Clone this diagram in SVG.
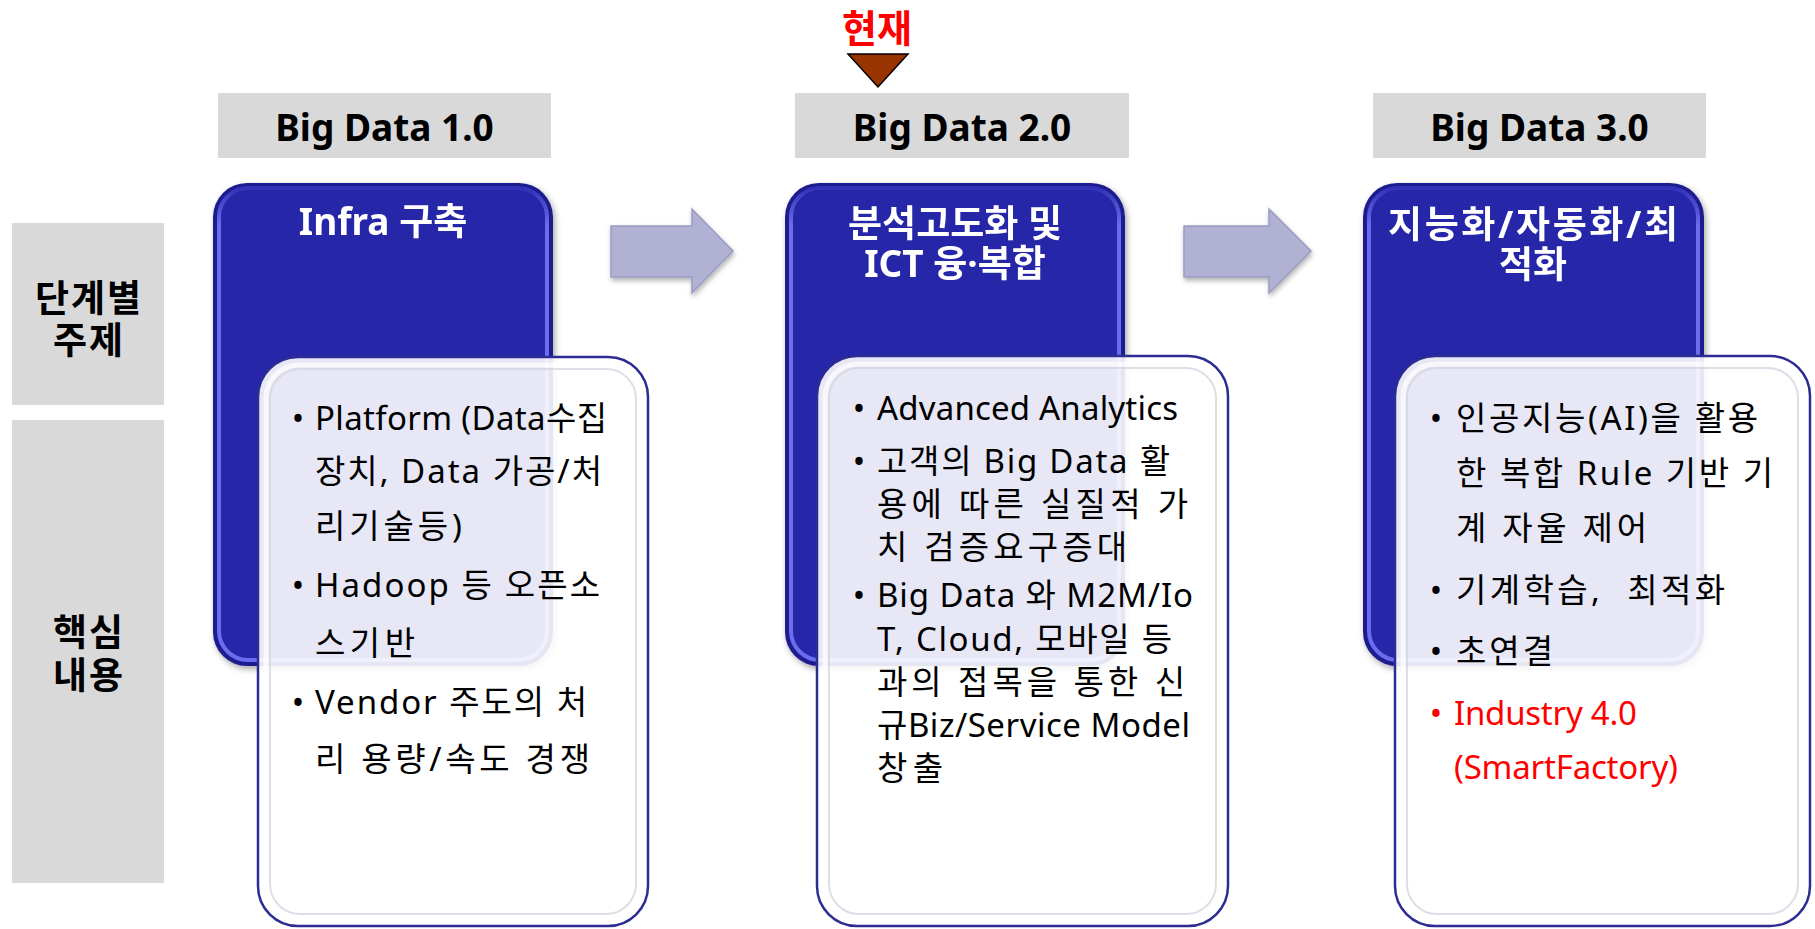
<svg xmlns="http://www.w3.org/2000/svg" width="1815" height="929" viewBox="0 0 1815 929">
  <defs>
    <style>
      .tag { fill: #d9d9d9; }
      .hdr { font-family: "Noto Sans", "Noto Sans CJK KR", sans-serif; font-weight: 700; font-size: 37px; fill: #000; text-anchor: middle; }
      .side { font-family: "Noto Sans CJK KR", "Noto Sans", sans-serif; font-weight: 700; font-size: 37px; fill: #000; text-anchor: middle; letter-spacing: 2px; }
      .title { font-family: "Noto Sans", "Noto Sans CJK KR", sans-serif; font-weight: 700; font-size: 37px; fill: #fff; text-anchor: middle; }
      .body { font-family: "Noto Sans", "Noto Sans CJK KR", sans-serif; font-size: 33px; fill: #000; white-space: pre; }
      .bul { font-family: "Noto Sans", "Noto Sans CJK KR", sans-serif; font-size: 33px; fill: #000; text-anchor: middle; }
      .red { fill: #ff0000; }
      .blue-rim { fill: #1d1d8e; }
      .blue-core { fill: #2525a9; stroke: url(#blueEdge); stroke-width: 4; }
      .card { fill: #ffffff; fill-opacity: 0.89; stroke: #2c2c93; stroke-width: 2.5; }
      .card-ring { fill: none; stroke: #d6d6e2; stroke-width: 2; stroke-opacity: 0.8; }
      .card-gloss { fill: none; stroke: #ffffff; stroke-width: 5; stroke-opacity: 0.7; }
      .flow { fill: #b1b1d3; stroke: #9a9ac4; stroke-width: 1.5; }
      .now { font-family: "Noto Sans", "Noto Sans CJK KR", sans-serif; font-weight: 700; font-size: 38px; fill: #ff0000; text-anchor: middle; }
    </style>
    <linearGradient id="blueEdge" x1="0" y1="0" x2="0" y2="1">
      <stop offset="0" stop-color="#3232b8"/>
      <stop offset="0.08" stop-color="#6c6cee"/>
      <stop offset="1" stop-color="#6c6cee"/>
    </linearGradient>
    <filter id="drop" x="-10%" y="-10%" width="125%" height="125%">
      <feDropShadow dx="2" dy="3" stdDeviation="3" flood-color="#000" flood-opacity="0.35"/>
    </filter>
    <filter id="dropSoft" x="-10%" y="-10%" width="125%" height="130%">
      <feDropShadow dx="1" dy="3" stdDeviation="2.5" flood-color="#000" flood-opacity="0.3"/>
    </filter>
  </defs>

  <rect width="1815" height="929" fill="#ffffff"/>

  <!-- row labels -->
  <g id="label-stage">
    <rect class="tag" x="12" y="223" width="152" height="182"/>
    <text class="side" x="89" y="312">단계별</text>
    <text class="side" x="89" y="354">주제</text>
  </g>
  <g id="label-content">
    <rect class="tag" x="12" y="420" width="152" height="463"/>
    <text class="side" x="89" y="646">핵심</text>
    <text class="side" x="89" y="689">내용</text>
  </g>

  <!-- version headers -->
  <g id="header-1">
    <rect class="tag" x="218" y="93" width="333" height="65"/>
    <text class="hdr" x="384.5" y="141">Big Data 1.0</text>
  </g>
  <g id="header-2">
    <rect class="tag" x="795" y="93" width="334" height="65"/>
    <text class="hdr" x="962" y="141">Big Data 2.0</text>
  </g>
  <g id="header-3">
    <rect class="tag" x="1373" y="93" width="333" height="65"/>
    <text class="hdr" x="1539.5" y="141">Big Data 3.0</text>
  </g>

  <!-- current position marker -->
  <g id="now-marker">
    <text class="now" x="877" y="42">현재</text>
    <polygon points="848,54 908,54 878,87" fill="#993300" stroke="#000000" stroke-width="1.5" stroke-linejoin="miter"/>
  </g>

  <!-- stage themes (blue panels) -->
  <g id="theme-1" filter="url(#drop)">
    <rect class="blue-rim" x="213" y="183" width="340" height="483" rx="34"/>
    <rect class="blue-core" x="219" y="188" width="328" height="472" rx="29"/>
    <text class="title" x="383" y="235">Infra 구축</text>
  </g>
  <g id="theme-2" filter="url(#drop)">
    <rect class="blue-rim" x="785" y="183" width="340" height="483" rx="34"/>
    <rect class="blue-core" x="791" y="188" width="328" height="472" rx="29"/>
    <text class="title" x="955" y="237">분석고도화 및</text>
    <text class="title" x="955" y="277">ICT 융·복합</text>
  </g>
  <g id="theme-3" filter="url(#drop)">
    <rect class="blue-rim" x="1363" y="183" width="341" height="483" rx="34"/>
    <rect class="blue-core" x="1369" y="188" width="329" height="472" rx="29"/>
    <text class="title" x="1533" y="238" textLength="290" lengthAdjust="spacing">지능화/자동화/최</text>
    <text class="title" x="1533" y="278">적화</text>
  </g>

  <!-- connectors between stages -->
  <g id="connectors" filter="url(#dropSoft)">
    <polygon class="flow" points="611,226 692,226 692,209 733,251 692,293 692,277 611,277"/>
    <polygon class="flow" points="1184,226 1269,226 1269,209 1311,251 1269,293 1269,277 1184,277"/>
  </g>

  <!-- detail cards -->
  <g id="detail-1">
    <rect class="card" x="258" y="357" width="390" height="569" rx="40"/>
    <rect class="card-gloss" x="266" y="365" width="374" height="553" rx="33"/>
    <rect class="card-ring" x="270" y="369" width="366" height="545" rx="30"/>
    <text class="bul" x="298" y="430">•</text>
    <text class="body" x="315" y="430" textLength="292" lengthAdjust="spacing">Platform (Data수집</text>
    <text class="body" x="315" y="483" textLength="287" lengthAdjust="spacing">장치, Data 가공/처</text>
    <text class="body" x="315" y="538" textLength="147" lengthAdjust="spacing">리기술등)</text>
    <text class="bul" x="298" y="597">•</text>
    <text class="body" x="315" y="597" textLength="285" lengthAdjust="spacing">Hadoop 등 오픈소</text>
    <text class="body" x="315" y="655" textLength="100" lengthAdjust="spacing">스기반</text>
    <text class="bul" x="298" y="714">•</text>
    <text class="body" x="315" y="714" textLength="272" lengthAdjust="spacing">Vendor 주도의 처</text>
    <text class="body" x="315" y="771" textLength="275" lengthAdjust="spacing">리 용량/속도 경쟁</text>
  </g>

  <g id="detail-2">
    <rect class="card" x="817" y="356" width="411" height="570" rx="40"/>
    <rect class="card-gloss" x="825" y="364" width="395" height="554" rx="33"/>
    <rect class="card-ring" x="829" y="368" width="387" height="546" rx="30"/>
    <text class="bul" x="859" y="420">•</text>
    <text class="body" x="877" y="420" textLength="301" lengthAdjust="spacing">Advanced Analytics</text>
    <text class="bul" x="859" y="473">•</text>
    <text class="body" x="877" y="473" textLength="293" lengthAdjust="spacing">고객의 Big Data 활</text>
    <text class="body" x="877" y="516" textLength="311" lengthAdjust="spacing">용에 따른 실질적 가</text>
    <text class="body" x="877" y="559" textLength="250" lengthAdjust="spacing">치 검증요구증대</text>
    <text class="bul" x="859" y="607">•</text>
    <text class="body" x="877" y="607" textLength="316" lengthAdjust="spacing">Big Data 와 M2M/Io</text>
    <text class="body" x="877" y="651" textLength="295" lengthAdjust="spacing">T, Cloud, 모바일 등</text>
    <text class="body" x="877" y="694" textLength="308" lengthAdjust="spacing">과의 접목을 통한 신</text>
    <text class="body" x="877" y="737" textLength="313" lengthAdjust="spacing">규Biz/Service Model</text>
    <text class="body" x="877" y="780" textLength="66" lengthAdjust="spacing">창출</text>
  </g>

  <g id="detail-3">
    <rect class="card" x="1395" y="356" width="415" height="570" rx="40"/>
    <rect class="card-gloss" x="1403" y="364" width="399" height="554" rx="33"/>
    <rect class="card-ring" x="1407" y="368" width="391" height="546" rx="30"/>
    <text class="bul" x="1436" y="430">•</text>
    <text class="body" x="1456" y="430" textLength="302" lengthAdjust="spacing">인공지능(AI)을 활용</text>
    <text class="body" x="1456" y="485" textLength="317" lengthAdjust="spacing">한 복합 Rule 기반 기</text>
    <text class="body" x="1456" y="540" textLength="191" lengthAdjust="spacing">계 자율 제어</text>
    <text class="bul" x="1436" y="602">•</text>
    <text class="body" x="1456" y="602" textLength="269" lengthAdjust="spacing">기계학습,  최적화</text>
    <text class="bul" x="1436" y="663">•</text>
    <text class="body" x="1456" y="663" textLength="97" lengthAdjust="spacing">초연결</text>
    <text class="bul red" x="1436" y="725">•</text>
    <text class="body red" x="1454" y="725" textLength="183" lengthAdjust="spacing">Industry 4.0</text>
    <text class="body red" x="1454" y="779" textLength="224" lengthAdjust="spacing">(SmartFactory)</text>
  </g>
</svg>
